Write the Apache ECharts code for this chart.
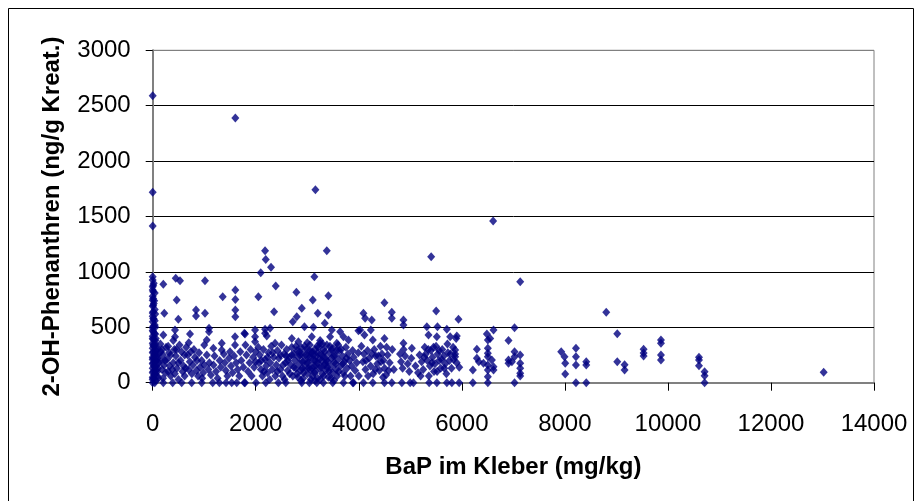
<!DOCTYPE html>
<html>
<head>
<meta charset="utf-8">
<script src="https://cdn.jsdelivr.net/npm/echarts@6/dist/echarts.min.js"></script>
<style>
html,body{margin:0;padding:0;background:#fff;}
#chart{width:922px;height:501px;}
</style>
</head>
<body>
<div id="chart"></div>
<script>
// Axis ticks
const xTicks = [0, 2000, 4000, 6000, 8000, 10000, 12000, 14000];
const yTicks = [0, 500, 1000, 1500, 2000, 2500, 3000];
const xTitle = 'BaP im Kleber (mg/kg)';
const yTitle = '2-OH-Phenanthren (ng/g Kreat.)';

// Points near x = 0
const col0 = [[0,2590],[0,1718],[0,1414],[0,957],[0,927],[20,897],[0,867],[0,837],[40,810],[0,780],[0,745],[20,715],[0,690],[40,660],[0,630],[0,600],[20,575],[0,550],[40,520],[0,495],[0,470],[30,445],[0,420],[0,400],[50,380],[0,355],[20,330],[0,310],[60,290],[0,270],[30,250],[0,230],[0,210],[50,190],[0,170],[20,150],[0,130],[60,110],[0,90],[30,70],[0,50],[0,30],[60,20],[0,0],[40,0],[80,160],[80,240],[70,320],[90,60],[100,130],[60,400],[40,560],[30,740],[50,620],[70,200],
[10,880],[10,820],[10,760],[10,700],[10,640],[10,580],[10,510],[10,460],[10,390],[10,340],[10,280],[10,220],[10,180],[10,100],[10,40],[50,500],[50,440],[50,350],[50,260],[50,140],[50,80],[90,300],[90,220],[90,100],[110,40],[110,260],[120,180]];

// 100 - 1000
const band1 = [[206,888],[447,942],[530,921],[466,746],[225,626],[497,572],[206,430],[433,475],[433,415],[724,440],[841,656],[841,602],[1015,921],[1015,626],
[150,350],[180,300],[200,250],[150,200],[220,160],[180,120],[250,90],[200,40],[300,330],[320,270],[280,210],[330,150],[300,100],[350,60],[400,380],[420,300],[450,240],[400,180],[470,130],[430,80],[500,30],[520,340],[560,280],[540,200],[600,150],[580,100],[620,60],[650,320],[700,360],[680,250],[720,190],[700,120],[760,80],[800,300],[820,230],[780,160],[850,110],[880,60],[900,270],[950,200],[920,140],[980,90],[1000,340],[1049,385],[960,40],
[160,280],[240,200],[260,320],[350,250],[380,120],[460,300],[500,180],[620,250],[640,130],[740,280],[860,200],[1000,160],
[206,0],[388,0],[563,0],[757,0],[952,0]];

// 1000 - 2000
const band2 = [[1093,491],[1093,460],[1177,310],[1340,355],[1340,295],[1359,776],[1598,415],[1598,340],[1501,280],[1604,837],[1604,752],[1604,656],[1604,596],[1604,2390],[1779,446],[1987,475],[1987,415],[1987,370],
[1050,250],[1100,180],[1080,120],[1130,70],[1200,240],[1180,160],[1230,100],[1260,40],[1300,200],[1320,140],[1380,260],[1400,180],[1420,110],[1450,60],[1480,220],[1520,150],[1550,90],[1580,240],[1620,180],[1650,120],[1700,280],[1680,60],[1720,200],[1760,140],[1800,340],[1820,250],[1850,100],[1880,180],[1900,300],[1920,60],[1950,230],[1970,140],[2000,280],[2000,190],
[1165,0],[1294,0],[1423,0],[1534,0],[1631,0],[1779,0],[2006,0]];

// 2000 - 4000
const band3 = [[2181,1191],[2194,1113],[2297,1041],[2097,993],[3379,1191],[3138,957],[3158,1742],[2388,873],[2051,776],[2789,816],[3410,785],[3107,746],[2894,671],[2356,641],[3410,611],[3204,626],[2796,596],[2719,551],[3340,536],[2945,505],[3119,500],[2278,491],[2181,482],[1792,440],[2214,421],[3476,475],[3638,460],[3702,415],[3799,385],[2375,355],[2700,400],[2828,370],[3088,415],[3249,355],[3443,415],[3573,355],[2181,446],
[2050,320],[2080,250],[2060,180],[2100,120],[2130,60],[2150,300],[2180,210],[2200,150],[2230,90],[2250,270],[2280,180],[2300,330],[2320,120],[2350,230],[2380,60],[2400,160],[2420,290],
[2450,220],[2480,120],[2500,340],[2520,60],[2550,260],[2580,180],[2600,300],[2620,110],[2650,230],[2680,160],[2700,320],[2720,60],[2740,260],[2760,200],[2780,130],[2800,290],[2800,80],
[2830,230],[2850,170],[2870,110],[2880,320],[2900,260],[2920,40],[2940,200],[2960,140],[2980,300],[3000,80],[3010,240],[3030,180],[3050,340],[3060,120],[3080,270],[3100,60],[3110,210],[3130,150],[3150,300],[3160,100],[3180,240],[3200,180],[3200,40],
[3220,320],[3240,130],[3260,260],[3280,200],[3290,80],[3310,300],[3330,160],[3350,230],[3360,110],[3380,340],[3400,190],[3410,50],[3430,270],[3450,140],[3470,220],[3490,90],[3500,310],[3520,180],[3540,250],[3560,120],[3580,60],[3600,210],
[3620,290],[3650,150],[3680,240],[3700,90],[3720,190],[3750,320],[3770,130],[3790,260],[3820,200],[3840,60],[3860,150],[3880,290],[3900,230],[3930,110],[3960,180],[3990,270],[4000,60],
[2850,280],[2900,130],[2950,330],[3000,180],[3050,230],[3100,280],[3150,200],[3200,270],[3250,30],[3300,240],[3350,170],[3420,100],[3470,300],[3520,20],[2880,20],[3090,130],[3300,350],[3150,20],[3000,360],[3600,340],[3250,380],
[2620,200],[2660,80],[2700,250],[2740,140],[2780,330],[2820,50],[2860,250],[2910,190],[2930,90],[2970,250],[3020,130],[3040,290],[3070,30],[3120,250],[3140,90],[3170,160],[3190,330],[3230,210],[3270,140],[3320,60],[3340,280],[3370,200],[3390,140],[3440,330],[3460,40],[3510,240],[3550,170],[3570,290],[3610,100],[3660,300],[3690,170],[3730,60],[3760,220],[2480,250],[2530,160],[2560,30],[2590,240],[2230,230],[2270,30],[2330,270],[2420,100],[2110,200],[2160,100],
[1792,0],[2194,0],[2439,0],[2583,0],[2894,0],[3041,0],[3185,0],[3313,0],[3495,0],[3702,0],[3884,0]];

// 4000 - 6000
const band4 = [[4090,626],[4123,581],[4252,566],[4498,722],[4641,635],[4641,581],[4867,566],[4867,521],[5405,1137],[5502,647],[5935,572],[3993,469],[4110,430],[4233,475],[4272,385],[4498,400],[4867,355],[5030,310],[5321,505],[5527,505],[5353,430],[5515,415],[5709,482],[5774,415],[5890,400],[4026,475],[5903,421],
[4050,330],[4100,260],[4080,190],[4130,120],[4170,290],[4200,220],[4230,150],[4280,80],[4300,300],[4330,240],[4360,170],[4400,110],[4420,330],[4450,260],[4480,200],[4500,130],[4530,70],[4560,250],[4600,180],[4650,300],[4680,120],[4800,260],[4820,190],[4850,130],[4870,300],[4900,240],[4950,170],[4980,100],[5020,220],[5100,150],[5150,90],[5180,250],[5220,190],[5250,120],[5280,320],[5300,260],[5330,200],[5360,60],[5380,150],[5400,290],[5430,230],[5460,100],[5480,170],[5500,330],[5530,260],[5560,200],[5590,130],[5620,300],[5650,240],[5680,170],[5700,80],[5730,270],[5760,200],[5800,130],[5830,320],[5870,260],[5900,180],[5950,139],[5870,295],[5870,235],
[4140,200],[4180,60],[4260,260],[4320,120],[4380,240],[4430,190],[4470,50],[4540,320],[4580,110],[5200,60],[5270,230],[5350,300],[5420,180],[5450,320],[5520,100],[5560,290],[5610,210],[5660,130],[5720,350],[5780,260],[5840,210],
[3896,0],[4090,0],[4272,0],[4498,0],[4641,0],[4836,0],[4997,0],[5061,0],[5366,0],[5515,0],[5709,0],[5806,0],[5948,0]];

// 6000 - 7200
const band5 = [[6214,115],[6292,301],[6292,220],[6330,190],[6505,385],[6505,310],[6505,265],[6505,235],[6505,160],[6505,115],[6505,54],[6486,440],[6550,400],[6615,475],[6420,175],[6583,205],[6615,145],[6615,115],[6608,1459],[6906,380],[6906,205],[6906,175],[7023,497],[7023,280],[7023,235],[6972,190],[7133,912],[7133,250],[7133,175],[7133,130],[7133,85],[7133,60],[6214,0],[6505,0],[7023,0]];

// 7900 and above
const band6 = [[7929,280],[7993,235],[8007,175],[8007,79],[8215,310],[8215,235],[8215,160],[8215,0],[8415,190],[8415,160],[8415,0],
[8803,635],[9017,442],[9017,190],[9159,162],[9159,114],[9528,301],[9528,268],[9528,241],[9865,385],[9865,356],[9865,250],[9865,205],[10603,229],[10603,205],[10603,154],[10712,99],[10712,63],[10712,0],[13023,94]];

const points = [].concat(col0, band1, band2, band3, band4, band5, band6);

const chart = echarts.init(document.getElementById('chart'), null, {renderer: 'canvas'});
const font = 'Liberation Sans, Arial, sans-serif';
chart.setOption({
  animation: false,
  backgroundColor: '#fff',
  graphic: [{
    type: 'rect',
    shape: {x: 8.5, y: 8.5, width: 905, height: 500},
    style: {fill: 'none', stroke: '#000', lineWidth: 1},
    silent: true, z: -1
  }],
  grid: {left: 152.7, top: 50.3, right: 48, bottom: 118.3, show: true, borderColor: '#808080', borderWidth: 1, backgroundColor: 'transparent'},
  xAxis: {
    type: 'value', min: xTicks[0], max: xTicks[xTicks.length - 1], interval: xTicks[1] - xTicks[0],
    name: xTitle, nameLocation: 'middle', nameGap: 73,
    nameTextStyle: {fontFamily: font, fontSize: 24, fontWeight: 'bold', color: '#000'},
    axisLine: {show: true, lineStyle: {color: '#808080', width: 2}},
    axisTick: {show: true, inside: false, length: 8, lineStyle: {color: '#000'}},
    axisLabel: {fontFamily: font, fontSize: 24, color: '#000', margin: 30, formatter: v => String(v)},
    splitLine: {show: false}
  },
  yAxis: {
    type: 'value', min: yTicks[0], max: yTicks[yTicks.length - 1], interval: yTicks[1] - yTicks[0],
    name: yTitle, nameLocation: 'middle', nameGap: 88,
    nameTextStyle: {fontFamily: font, fontSize: 24, fontWeight: 'bold', color: '#000'},
    axisLine: {show: true, lineStyle: {color: '#808080', width: 2}},
    axisTick: {show: true, inside: false, length: 7, lineStyle: {color: '#000'}},
    axisLabel: {fontFamily: font, fontSize: 24, color: '#000', margin: 22, formatter: v => String(v)},
    splitLine: {show: true, lineStyle: {color: ['#808080', '#000', '#000', '#000', '#000', '#000', '#808080'], width: 1}}
  },
  series: [{
    type: 'scatter',
    data: points,
    symbol: 'diamond',
    symbolSize: [8, 9],
    itemStyle: {color: '#000080'},
    z: 5
  }]
});
</script>
</body>
</html>
